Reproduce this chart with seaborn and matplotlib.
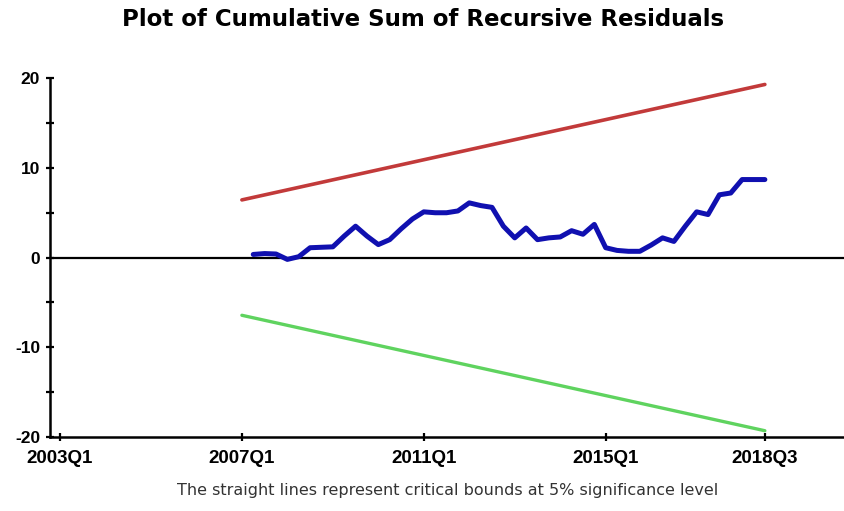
import matplotlib
matplotlib.use("Agg")
import matplotlib.pyplot as plt
import numpy as np
import pandas as pd
import seaborn as sns

# cusum of recursive residuals, quarterly 2007Q2..2018Q3
cusum = [0.35, 0.45, 0.4, -0.2, 0.1, 1.1, 1.15, 1.2, 2.4, 3.5,
         2.4, 1.45, 2.0, 3.2, 4.3, 5.1, 5.0, 5.0, 5.2, 6.1,
         5.8, 5.6, 3.5, 2.2, 3.3, 2.0, 2.2, 2.3, 3.0, 2.6,
         3.7, 1.1, 0.8, 0.7, 0.7, 1.4, 2.2, 1.8, 3.5, 5.1,
         4.8, 7.0, 7.2, 8.7, 8.7, 8.7]
bound_start = 6.43
bound_end = 19.3
tick_pos = [2003.0, 2007.0, 2011.0, 2015.0, 2018.5]
tick_labels = ["2003Q1", "2007Q1", "2011Q1", "2015Q1", "2018Q3"]

t_cusum = 2007.0 + np.arange(1, len(cusum) + 1) / 4
df = pd.DataFrame({"t": t_cusum, "cusum": cusum})
bounds = pd.DataFrame({"t": [2007.0, 2018.5],
                       "upper": [bound_start, bound_end],
                       "lower": [-bound_start, -bound_end]})

sns.set_style("white")
plt.rcParams["font.family"] = ["Liberation Sans", "DejaVu Sans"]

fig = plt.figure(figsize=(8.44, 5.11), dpi=100)
ax = fig.add_axes([0.0592, 0.1448, 0.9408, 0.7022])

ax.axhline(0, color="black", lw=1.6, zorder=1)
sns.lineplot(data=bounds, x="t", y="upper", color="#c23a3a", lw=2.6, ax=ax)
sns.lineplot(data=bounds, x="t", y="lower", color="#5fd35f", lw=2.4, ax=ax)
sns.lineplot(data=df, x="t", y="cusum", color="#1010b0", lw=3.6, ax=ax)

ax.set_xlim(2002.78, 2020.24)
ax.set_ylim(-20, 20)
ax.set_xticks(tick_pos)
ax.set_xticklabels(tick_labels, fontweight="bold", fontsize=13.5)
ax.set_yticks([-20, -10, 0, 10, 20])
ax.set_yticklabels(["-20", "-10", "0", "10", "20"], fontweight="bold", fontsize=12.5)
ax.set_yticks([-15, -5, 5, 15], minor=True)
ax.tick_params(axis="both", which="both", direction="inout", length=6, width=1.6,
               color="black", labelcolor="black", bottom=True, left=True)
ax.tick_params(axis="x", pad=6)
ax.tick_params(axis="y", pad=4)
ax.set_xlabel("")
ax.set_ylabel("")
for s in ["top", "right"]:
    ax.spines[s].set_visible(False)
for s in ["left", "bottom"]:
    ax.spines[s].set_color("black")
    ax.spines[s].set_linewidth(1.8)

fig.text(0.501, 0.962, "Plot of Cumulative Sum of Recursive Residuals",
         ha="center", va="center", fontsize=16.5, fontweight="bold",
         family="DejaVu Sans", color="black")
fig.text(0.53, 0.041, "The straight lines represent critical bounds at 5% significance level",
         ha="center", va="center", fontsize=11.5, color="#333333",
         family="DejaVu Sans")

fig.savefig("out.png", dpi=100)
